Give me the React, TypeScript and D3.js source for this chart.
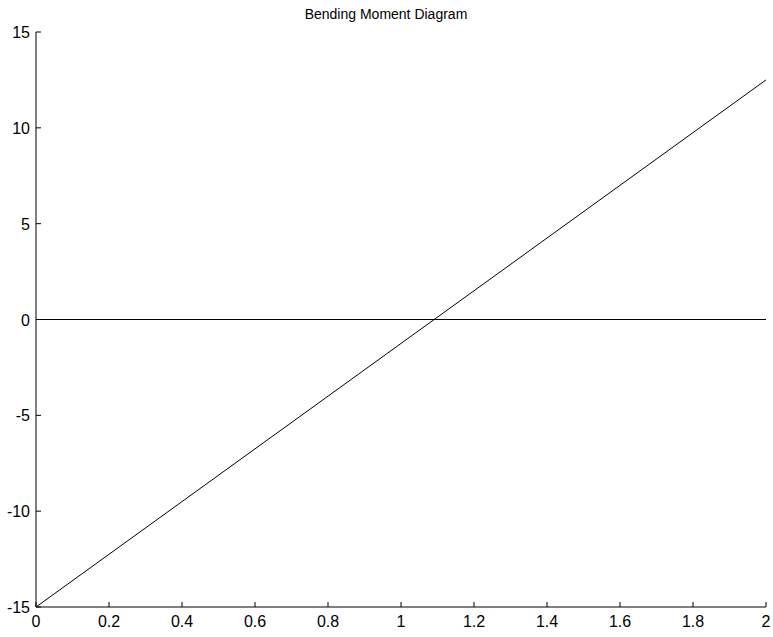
import React from "react";
import * as d3 from "d3";

const xTicks = [0, 0.2, 0.4, 0.6, 0.8, 1, 1.2, 1.4, 1.6, 1.8, 2];
const yTicks = [-15, -10, -5, 0, 5, 10, 15];
const momentX = [0, 2];
const momentY = [-15, 12.5];
const zeroX = [0, 2];
const zeroY = [0, 0];
const title = "Bending Moment Diagram";

export default function App() {
  const W = 773, H = 637;
  const left = 36, right = 766, top = 32, bottom = 607;
  const x = d3.scaleLinear().domain([0, 2]).range([left, right]);
  const y = d3.scaleLinear().domain([-15, 15]).range([bottom, top]);
  const line = d3.line<number>().x((_, i) => x(momentX[i])).y((d) => y(d));
  const zline = d3.line<number>().x((_, i) => x(zeroX[i])).y((d) => y(d));
  const font = "Liberation Sans, Arial, sans-serif";
  return (
    <svg width={W} height={H} style={{ position: "absolute", left: 0, top: 0, background: "#fff" }}>
      <rect width={W} height={H} fill="#fff" />
      <text x={386} y={19} textAnchor="middle" fontFamily={font} fontSize={14} fill="#000">{title}</text>
      <path d={zline(zeroY) || ""} stroke="#000" strokeWidth={1.2} fill="none" />
      <path d={line(momentY) || ""} stroke="#000" strokeWidth={1} fill="none" />
      <line x1={left} x2={left} y1={top} y2={bottom} stroke="#000" strokeWidth={1} />
      <line x1={left} x2={right} y1={bottom} y2={bottom} stroke="#000" strokeWidth={1} />
      {yTicks.map((t) => (
        <g key={"y" + t}>
          <line x1={left} x2={left + 5} y1={y(t)} y2={y(t)} stroke="#000" />
          <text x={left - 6} y={y(t) + 6} textAnchor="end" fontFamily={font} fontSize={16} fill="#000">{t}</text>
        </g>
      ))}
      {xTicks.map((t) => (
        <g key={"x" + t}>
          <line x1={x(t)} x2={x(t)} y1={bottom} y2={bottom - 5} stroke="#000" />
          <text x={x(t)} y={bottom + 20} textAnchor="middle" fontFamily={font} fontSize={16} fill="#000">{t}</text>
        </g>
      ))}
    </svg>
  );
}
